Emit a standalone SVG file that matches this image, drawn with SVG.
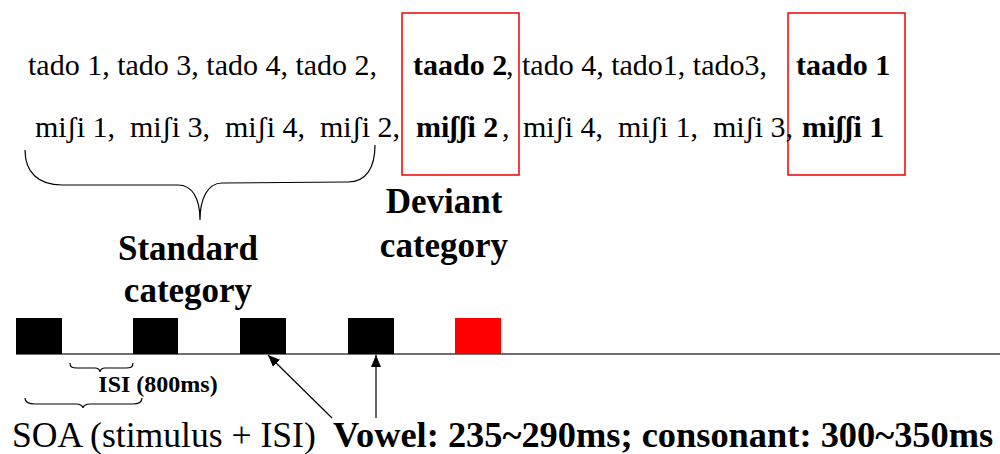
<svg xmlns="http://www.w3.org/2000/svg" width="1000" height="454" viewBox="0 0 1000 454">
<style>
.r{font-family:Liberation Serif, serif;font-size:30px;fill:#000}
.b{font-family:Liberation Serif, serif;font-size:30px;font-weight:bold;fill:#000}
.lbl{font-family:Liberation Serif, serif;font-size:35px;font-weight:bold;fill:#000;text-anchor:middle}
.brace{fill:none;stroke:#000;stroke-width:1.2}
.box{fill:none;stroke:#e00;stroke-width:1.5}
.sq{fill:#000}
.arr{stroke:#000;stroke-width:1.2;marker-end:url(#ah)}
</style>
<defs>
<marker id="ah" viewBox="0 0 12 10" refX="12" refY="5" markerWidth="12" markerHeight="10" markerUnits="userSpaceOnUse" orient="auto">
<path d="M0,0 L12,5 L0,10 z" fill="#000"/>
</marker>
</defs>
<g id="deviant-box-1"><rect class="box" x="402" y="13" width="117" height="162"/></g>
<g id="deviant-box-2"><rect class="box" x="788" y="13" width="117" height="162"/></g>
<g id="row-tado">
<text class="r" x="28" y="75">tado 1, tado 3, tado 4, tado 2,</text>
<text class="b" x="413" y="75">taado 2</text>
<text class="r" x="506" y="75">,</text>
<text class="r" x="522" y="75">tado 4, tado1, tado3,</text>
<text class="b" x="796" y="75">taado 1</text>
</g>
<g id="row-misi">
<text class="r" x="35" y="137">miʃi 1,</text>
<text class="r" x="130" y="137">miʃi 3,</text>
<text class="r" x="225" y="137">miʃi 4,</text>
<text class="r" x="320" y="137">miʃi 2,</text>
<text class="b" x="416" y="137">miʃʃi 2</text>
<text class="r" x="502" y="137">,</text>
<text class="r" x="523" y="137">miʃi 4,</text>
<text class="r" x="618" y="137">miʃi 1,</text>
<text class="r" x="713" y="137">miʃi 3,</text>
<text class="b" x="802" y="137">miʃʃi 1</text>
</g>
<g id="standard-brace">
<path class="brace" d="M25,150 C25,172 38,185 62,185 L178,185 C192,185 200,198 200,220 C200,198 208,183 222,183 L348,182 C366,182 375,168 375,145"/>
</g>
<g id="standard-label">
<text class="lbl" x="188" y="260">Standard</text>
<text class="lbl" x="188" y="302">category</text>
</g>
<g id="deviant-label">
<text class="lbl" x="444" y="213">Deviant</text>
<text class="lbl" x="444" y="257">category</text>
</g>
<g id="timeline">
<line x1="16" y1="354" x2="1000" y2="354" stroke="#404040" stroke-width="1.5"/>
<rect class="sq" x="16" y="318" width="46" height="36"/>
<rect class="sq" x="133" y="318" width="45" height="36"/>
<rect class="sq" x="240" y="318" width="46" height="36"/>
<rect class="sq" x="348" y="318" width="46" height="36"/>
<rect x="455" y="318" width="46" height="36" fill="#ff0000"/>
</g>
<g id="isi">
<path class="brace" d="M70,363 C70,367 72,368 77,368 L95,368 C98,368 100,370 100,372 C100,370 102,368 105,368 L126,368 C131,368 133,367 133,363"/>
<text x="158" y="392" font-family="Liberation Serif, serif" font-size="24" font-weight="bold" text-anchor="middle">ISI (800ms)</text>
</g>
<g id="soa">
<path class="brace" d="M25,398 C25,402 28,404 35,404 L76,404 C80,404 83,406 83,408 C83,406 86,404 90,404 L133,404 C139,404 142,402 142,398"/>
<text x="12" y="447" font-family="Liberation Serif, serif" font-size="35.6">SOA (stimulus + ISI)</text>
</g>
<g id="connectors">
<line class="arr" x1="332" y1="418" x2="268" y2="355"/>
<line class="arr" x1="376" y1="418" x2="376" y2="355"/>
</g>
<g id="duration-label">
<text x="333" y="447" font-family="Liberation Serif, serif" font-size="36.4" font-weight="bold">Vowel: 235~290ms; consonant: 300~350ms</text>
</g>
</svg>
